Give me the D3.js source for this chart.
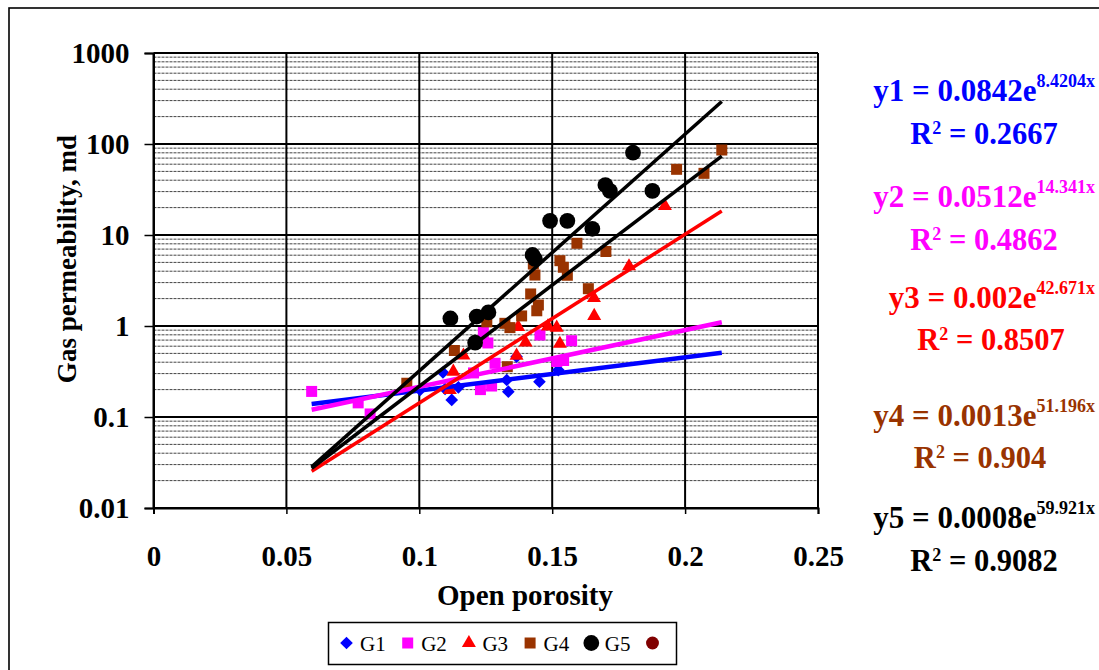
<!DOCTYPE html>
<html><head><meta charset="utf-8">
<script src="https://cdn.jsdelivr.net/npm/d3@7"></script>
<style>body{margin:0;background:#fff} svg{display:block;font-family:"Liberation Serif","Times New Roman",serif}</style>
</head><body><svg id="c" width="1099" height="670"></svg>
<script>
// ---- data ----
const seriesNames = ["G1","G2","G3","G4","G5"];
const g1Porosity = [0.1003, 0.1089, 0.1097, 0.1122, 0.1147, 0.1329, 0.1335, 0.1366, 0.1452, 0.1523];
const g1Perm     = [0.198, 0.308, 0.203, 0.154, 0.212, 0.255, 0.190, 0.460, 0.244, 0.328];
const g2Porosity = [0.0595, 0.0770, 0.0815, 0.1204, 0.1230, 0.1272, 0.1241, 0.1258, 0.1285, 0.1454, 0.1573, 0.1517, 0.1543];
const g2Perm     = [0.191, 0.143, 0.108, 0.305, 0.200, 0.219, 0.849, 0.651, 0.389, 0.796, 0.689, 0.407, 0.418];
const g3Porosity = [0.1115, 0.1128, 0.1166, 0.1366, 0.1372, 0.1400, 0.1484, 0.1517, 0.1529, 0.1657, 0.1658, 0.1789, 0.1924];
const g3Perm     = [0.198, 0.315, 0.474, 0.472, 0.975, 0.659, 0.99, 0.96, 0.638, 2.03, 1.29, 4.53, 20.8];
const g4Porosity = [0.0953, 0.1132, 0.1254, 0.1322, 0.1341, 0.1385, 0.1419, 0.1448, 0.1442, 0.1435, 0.1429, 0.1331, 0.1529, 0.1542, 0.1557, 0.1593, 0.1636, 0.1702, 0.1968, 0.2071, 0.2138];
const g4Perm     = [0.235, 0.538, 1.11, 1.07, 0.96, 1.29, 2.25, 1.70, 1.47, 3.63, 4.8, 0.357, 5.22, 4.42, 3.61, 8.11, 2.57, 6.59, 52.7, 47.6, 85.9];
const g5Porosity = [0.1117, 0.1216, 0.1260, 0.1210, 0.1426, 0.1435, 0.1492, 0.1557, 0.1651, 0.1700, 0.1717, 0.1804, 0.1877];
const g5Perm     = [1.21, 1.27, 1.41, 0.655, 6.03, 5.45, 14.3, 14.3, 11.7, 35.4, 30.5, 80.2, 30.5];

const xTicks = [0, 0.05, 0.1, 0.15, 0.2, 0.25];
const xTickLabels = ["0","0.05","0.1","0.15","0.2","0.25"];
const yTicks = [0.01, 0.1, 1, 10, 100, 1000];
const yTickLabels = ["0.01","0.1","1","10","100","1000"];

const trendA = [0.0842, 0.0512, 0.002, 0.0013, 0.0008];
const trendB = [8.4204, 14.341, 42.671, 51.196, 59.921];
const trendAText = ["0.0842","0.0512","0.002","0.0013","0.0008"];
const trendBText = ["8.4204","14.341","42.671","51.196","59.921"];
const r2Text = ["0.2667","0.4862","0.8507","0.904","0.9082"];

// ---- styles ----
const markerColors = ["#0000ff","#ff00ff","#ff0000","#993300","#000000"];
const lineColors   = ["#0000ff","#ff00ff","#ff0000","#000000","#000000"];
const lineWidths   = [4.5, 4.5, 3.5, 3.5, 3.5];
const eqColors     = ["#0000ff","#ff00ff","#ff0000","#993300","#000000"];

const svg = d3.select("#c");
svg.append("rect").attr("width",1099).attr("height",670).attr("fill","#fff");
// outer chart border (extends beyond right/bottom edges)
svg.append("rect").attr("x",9).attr("y",8).attr("width",1200).attr("height",1000)
  .attr("fill","none").attr("stroke","#000").attr("stroke-width",1.6);

const L = 153.5, R = 818, T = 53, B = 508;
const x = d3.scaleLinear().domain([0, 0.25]).range([L, R]);
const y = d3.scaleLog().domain([0.01, 1000]).range([B, T]);

// minor gridlines
const minor = [];
[0.01, 0.1, 1, 10, 100].forEach(d => { for (let m = 2; m <= 9; m++) minor.push(m * d); });
svg.append("g").selectAll("line").data(minor).join("line")
  .attr("x1", L).attr("x2", R).attr("y1", d => y(d)).attr("y2", d => y(d))
  .attr("stroke", "#444").attr("stroke-width", 1).attr("stroke-dasharray", "3,1");

// major gridlines
svg.append("g").selectAll("line").data(yTicks).join("line")
  .attr("x1", L).attr("x2", R).attr("y1", d => y(d)).attr("y2", d => y(d))
  .attr("stroke", "#000").attr("stroke-width", 2);
svg.append("g").selectAll("line").data(xTicks).join("line")
  .attr("y1", T).attr("y2", B).attr("x1", d => x(d)).attr("x2", d => x(d))
  .attr("stroke", "#000").attr("stroke-width", 2);

// axes
const yAxis = svg.append("g").attr("transform", `translate(${L},0)`)
  .call(d3.axisLeft(y).tickValues(yTicks).tickSize(9).tickPadding(15)
    .tickFormat((d, i) => yTickLabels[i]));
const xAxis = svg.append("g").attr("transform", `translate(0,${B})`)
  .call(d3.axisBottom(x).tickValues(xTicks).tickSize(6).tickPadding(31)
    .tickFormat((d, i) => xTickLabels[i]));
[yAxis, xAxis].forEach(a => {
  a.select(".domain").attr("stroke", "#000").attr("stroke-width", 2);
  a.selectAll(".tick line").attr("stroke", "#000").attr("stroke-width", 1.5);
  a.selectAll("text").attr("font-family", "Liberation Serif").attr("font-weight", "bold")
    .attr("font-size", 29).attr("fill", "#000");
});

// axis titles
svg.append("text").attr("transform", "translate(76,259) rotate(-90)")
  .attr("text-anchor", "middle").attr("font-weight", "bold").attr("font-size", 27)
  .text("Gas permeability, md");
svg.append("text").attr("x", 525).attr("y", 605)
  .attr("text-anchor", "middle").attr("font-weight", "bold").attr("font-size", 29)
  .text("Open porosity");

// markers
const porosity = [g1Porosity, g2Porosity, g3Porosity, g4Porosity, g5Porosity];
const perm = [g1Perm, g2Perm, g3Perm, g4Perm, g5Perm];
const symbols = [
  d3.symbol().type(d3.symbolSquare).size(80),
  d3.symbol().type(d3.symbolSquare).size(121),
  d3.symbol().type(d3.symbolTriangle).size(85),
  d3.symbol().type(d3.symbolSquare).size(121),
  d3.symbol().type(d3.symbolCircle).size(195)
];
const rot = [45, 0, 0, 0, 0];
porosity.forEach((px, s) => {
  const pts = px.map((v, i) => [v, perm[s][i]]);
  svg.append("g").selectAll("path").data(pts).join("path")
    .attr("d", symbols[s]())
    .attr("transform", d => `translate(${x(d[0])},${y(d[1])}) rotate(${rot[s]})`)
    .attr("fill", markerColors[s]);
});

// trend lines (from the displayed exponential fits)
const allX = porosity.flat();
const [xmin, xmax] = d3.extent(allX);
const line = d3.line().x(d => x(d[0])).y(d => y(d[1]));
trendA.forEach((a, i) => {
  const pts = [xmin, xmax].map(v => [v, a * Math.exp(trendB[i] * v)]);
  svg.append("path").attr("d", line(pts)).attr("fill", "none")
    .attr("stroke", lineColors[i]).attr("stroke-width", lineWidths[i]);
});

// equations
const eqBase = [100.7, 206.7, 308.3, 426, 528.3];
const r2Base = [144, 250, 350, 468.3, 570.7];
const r2Center = [984, 984, 991, 980, 984];
trendA.forEach((a, i) => {
  const t = svg.append("text").attr("x", 1095).attr("y", eqBase[i])
    .attr("text-anchor", "end").attr("font-weight", "bold").attr("font-size", 31)
    .attr("fill", eqColors[i]);
  t.append("tspan").text(`y${i+1} = ${trendAText[i]}e`);
  t.append("tspan").attr("dy", -14).attr("font-size", 18).text(`${trendBText[i]}x`);
  const r = svg.append("text").attr("x", r2Center[i]).attr("y", r2Base[i])
    .attr("text-anchor", "middle").attr("font-weight", "bold").attr("font-size", 30.5)
    .attr("fill", eqColors[i]);
  r.append("tspan").text("R");
  r.append("tspan").attr("dy", -10).attr("font-size", 18).text("2");
  r.append("tspan").attr("dy", 10).text(` = ${r2Text[i]}`);
});

// legend
svg.append("rect").attr("x", 328.5).attr("y", 622.5).attr("width", 348).attr("height", 42)
  .attr("fill", "#fff").attr("stroke", "#000").attr("stroke-width", 1.5);
const legendNames = seriesNames.concat([""]);
const legendColors = markerColors.concat(["#800000"]);
const legendSymbols = symbols.concat([d3.symbol().type(d3.symbolCircle).size(130)]);
const legendRot = rot.concat([0]);
legendNames.forEach((n, i) => {
  const mx = 346.5 + i * 61.2;
  svg.append("path").attr("d", legendSymbols[i]())
    .attr("transform", `translate(${mx},643) rotate(${legendRot[i]})`)
    .attr("fill", legendColors[i]);
  if (n) svg.append("text").attr("x", mx + 13.5).attr("y", 650.5)
    .attr("font-size", 21).attr("fill", "#000").text(n);
});
</script></body></html>
